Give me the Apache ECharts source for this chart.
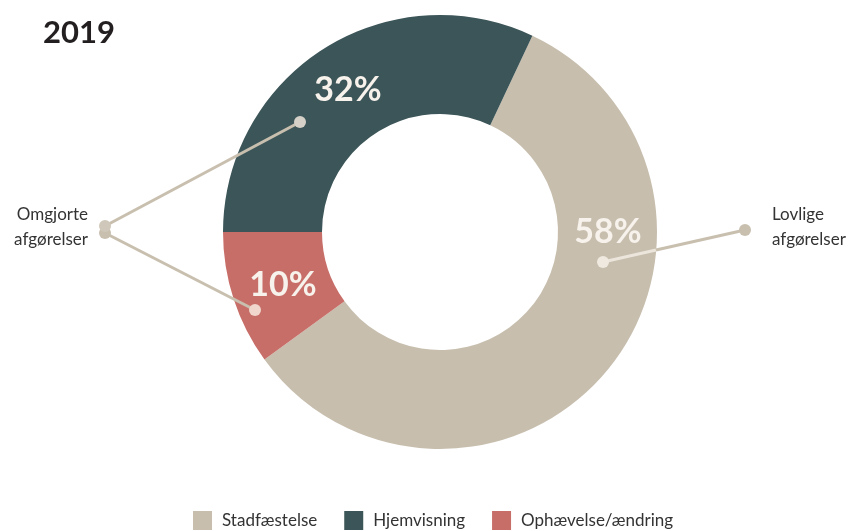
<!DOCTYPE html>
<html>
<head>
<meta charset="utf-8">
<script src="https://cdn.jsdelivr.net/npm/echarts@6/dist/echarts.min.js"></script>
<style>
  html, body { margin: 0; padding: 0; background: #fff; }
  #chart { width: 852px; height: 531px; }
</style>
</head>
<body>
<div id="chart"></div>
<script>
// data
var categories = ['Stadfæstelse', 'Ophævelse/ændring', 'Hjemvisning']
var shares = [58, 10, 32]
var legendOrder = ['Stadfæstelse', 'Hjemvisning', 'Ophævelse/ændring']
var colors = { 'Stadfæstelse': '#c7beae', 'Hjemvisning': '#3c5558', 'Ophævelse/ændring': '#c86e69' }
var title = '2019'

var lineColor = '#c8bfaf'
var font = 'Lato, "Open Sans", sans-serif'

function initChart() {
    var myChart = echarts.init(document.getElementById('chart'))

    var pieData = categories.map(function(c, i) {
        return { name: c, value: shares[i], itemStyle: { color: colors[c] } }
    })

    // annotation: percentage labels + leader lines
    function pct(name, x, y) {
        var v = shares[categories.indexOf(name)]
        return {
            type: 'text', z: 110, x: x, y: y,
            style: {
                text: v + '%', fill: '#f7f2ec', font: 'bold 34px ' + font,
                align: 'center', verticalAlign: 'middle'
            }
        }
    }
    function line(x1, y1, x2, y2, c) {
        return { type: 'line', z: 100, shape: { x1: x1, y1: y1, x2: x2, y2: y2 },
                 style: { stroke: c || lineColor, lineWidth: 3 } }
    }
    function dot(x, y, c) {
        return { type: 'circle', z: 105, shape: { cx: x, cy: y, r: 6 }, style: { fill: c } }
    }

    var option = {
        animation: false,
        title: {
            text: title, left: 38, top: 12,
            textStyle: { fontFamily: font, fontSize: 31, fontWeight: 'bold', color: '#231f20' }
        },
        legend: {
            data: legendOrder,
            bottom: -4,
            left: 188,
            icon: 'rect',
            itemWidth: 19,
            itemHeight: 19,
            itemGap: 27,
            textStyle: { fontFamily: font, fontSize: 17, color: '#333', padding: [0, 0, 0, 5] }
        },
        series: [{
            type: 'pie',
            center: [440, 232],
            radius: [118, 217],
            startAngle: 64.8,
            clockwise: true,
            label: { show: false },
            labelLine: { show: false },
            emphasis: { disabled: true },
            data: pieData
        }],
        graphic: [
            line(603, 262, 656, 250, '#ebe5dc'),
            line(656, 250, 745, 230),
            line(105, 226, 300, 122),
            line(105, 233, 255, 310),
            dot(603, 262, '#efe9e0'),
            dot(745, 230, lineColor),
            dot(300, 122, '#d6d1c8'),
            dot(255, 310, '#f0d6cc'),
            dot(105, 233, lineColor),
            dot(105, 226, '#cfc7b9'),
            pct('Stadfæstelse', 608, 232),
            pct('Hjemvisning', 348, 90),
            pct('Ophævelse/ændring', 283, 285),
            {
                type: 'text', z: 110, x: 772, y: 227,
                style: { text: 'Lovlige\nafgørelser', fill: '#333', font: '17px ' + font,
                         lineHeight: 25, align: 'left', verticalAlign: 'middle' }
            },
            {
                type: 'text', z: 110, x: 88, y: 227,
                style: { text: 'Omgjorte\nafgørelser', fill: '#333', font: '17px ' + font,
                         lineHeight: 25, align: 'right', verticalAlign: 'middle' }
            }
        ]
    }
    myChart.setOption(option)
}

initChart()
</script>
</body>
</html>
